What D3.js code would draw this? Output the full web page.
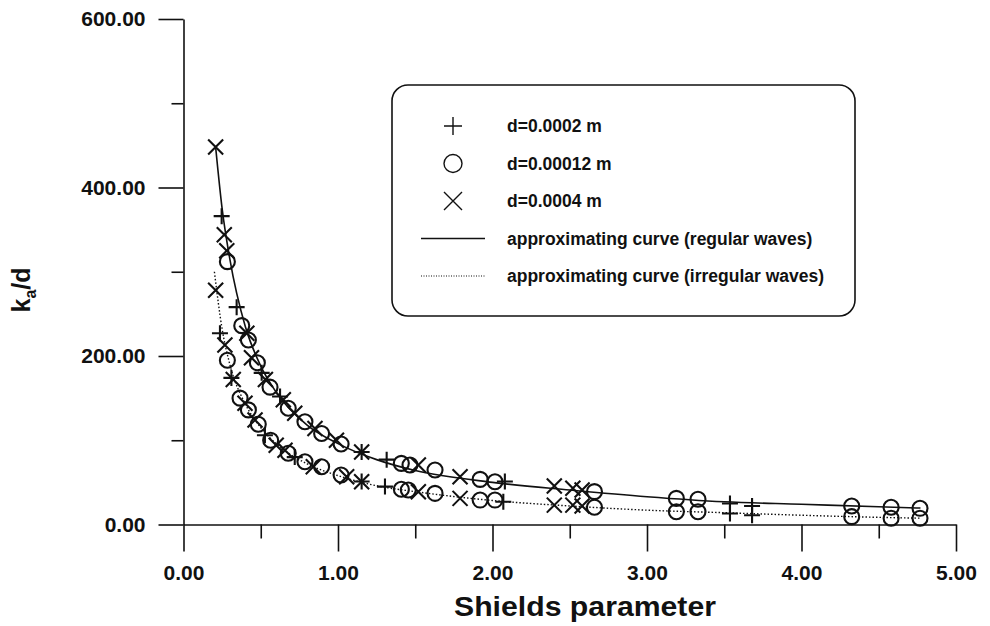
<!DOCTYPE html>
<html>

<head>
    <title>
        Shields parameter vs ka/d
    </title>
    <script src="https://cdn.jsdelivr.net/npm/d3@7/dist/d3.min.js"></script>
    <style>
        body { margin: 0; background: #fff; }
        text { font-family: "Liberation Sans", Arial, sans-serif; font-weight: bold; fill: #111; }
    </style>
</head>

<body>
    <svg></svg>
    <script>
        const width = 990;
        const height = 626;

        // d=0.0002 m  (plus)
        const plusUpper = [[0.247, 366], [0.344, 258], [0.506, 180], [0.625, 152], [1.153, 86], [1.315, 77], [2.08, 51], [3.537, 25], [3.68, 22]];
        const plusLower = [[0.236, 227], [0.31, 174], [0.527, 106], [0.72, 80], [1.153, 51], [1.304, 45], [2.07, 27], [3.537, 13], [3.68, 11]];
        // d=0.00012 m (circle)
        const circleUpper = [[0.284, 312], [0.377, 236], [0.42, 219], [0.478, 192], [0.56, 163], [0.678, 138], [0.786, 122], [0.894, 108], [1.02, 95.5], [1.41, 72.6], [1.466, 70.6], [1.628, 64.7], [1.92, 53.6], [2.016, 50.8], [2.66, 39], [3.19, 31], [3.33, 30], [4.325, 22], [4.58, 20.4], [4.767, 19.2]];
        const circleLower = [[0.284, 195], [0.366, 150], [0.42, 136], [0.484, 119], [0.564, 100], [0.678, 84.5], [0.786, 74.5], [0.894, 68.6], [1.02, 58.8], [1.41, 41.8], [1.455, 41], [1.628, 37], [1.92, 29], [2.016, 29], [2.66, 20.4], [3.19, 15.2], [3.33, 15.2], [4.325, 9.3], [4.58, 7.4], [4.767, 7.4]];
        // d=0.0004 m (cross)
        const crossUpper = [[0.208, 448], [0.264, 344], [0.28, 325], [0.41, 227], [0.44, 198], [0.53, 172], [0.646, 148], [0.72, 132], [0.851, 114], [0.99, 100], [1.153, 86], [1.52, 70.6], [1.79, 56.7], [2.40, 45.7], [2.52, 43], [2.58, 41]];
        const crossLower = [[0.208, 278], [0.268, 213], [0.322, 172], [0.398, 144], [0.463, 124], [0.6, 94], [0.657, 88], [0.84, 68.6], [1.056, 56.7], [1.153, 50.8], [1.52, 39], [1.79, 31], [2.40, 23], [2.52, 23], [2.58, 22]];

        // approximating curves
        const curveRegular = [[0.208, 448], [0.25, 375], [0.3, 315], [0.4, 235], [0.5, 188], [0.6, 157], [0.8, 118], [1.0, 96], [1.25, 77], [1.5, 64], [2.0, 50], [2.5, 41], [3.0, 33], [3.5, 27], [4.0, 24], [4.5, 21], [4.77, 19.5]];
        const curveIrregular = [[0.2, 300], [0.25, 232], [0.3, 190], [0.4, 143], [0.5, 115], [0.6, 96], [0.8, 72], [1.0, 58], [1.25, 46], [1.5, 39], [2.0, 28.5], [2.5, 22], [3.0, 17], [3.5, 14], [4.0, 11], [4.5, 8.5], [4.77, 7.5]];

        const xTicks = [0, 1, 2, 3, 4, 5];
        const xMinor = [0.5, 1.5, 2.5, 3.5, 4.5];
        const yTicks = [0, 200, 400, 600];
        const yMinor = [100, 300, 500];

        const legendItems = [
            { label: "d=0.0002 m", type: "plus" },
            { label: "d=0.00012 m", type: "circle" },
            { label: "d=0.0004 m", type: "cross" },
            { label: "approximating curve (regular waves)", type: "solid" },
            { label: "approximating curve (irregular waves)", type: "dotted" }
        ];

        let svg = d3.select("svg")
            .attr("width", width)
            .attr("height", height);

        let xScale = d3.scaleLinear().domain([0, 5]).range([183.5, 956]);
        let yScale = d3.scaleLinear().domain([0, 600]).range([524.5, 19]);

        let fmt = d3.format(".2f");

        // axes
        let xAxis = svg.append("g")
            .attr("transform", "translate(0," + yScale(0) + ")")
            .call(d3.axisBottom(xScale).tickValues(xTicks).tickSize(27).tickSizeOuter(0).tickPadding(14).tickFormat(fmt));
        svg.append("g")
            .attr("transform", "translate(0," + yScale(0) + ")")
            .call(d3.axisBottom(xScale).tickValues(xMinor).tickSize(14).tickFormat(""))
            .select(".domain").remove();

        let yAxis = svg.append("g")
            .attr("transform", "translate(" + xScale(0) + ",0)")
            .call(d3.axisLeft(yScale).tickValues(yTicks).tickSize(25).tickSizeOuter(0).tickPadding(13).tickFormat(fmt));
        svg.append("g")
            .attr("transform", "translate(" + xScale(0) + ",0)")
            .call(d3.axisLeft(yScale).tickValues(yMinor).tickSize(12).tickFormat(""))
            .select(".domain").remove();

        svg.selectAll(".domain, .tick line")
            .attr("stroke", "#111")
            .attr("stroke-width", 1.6);

        xAxis.selectAll("text")
            .attr("font-size", 21)
            .attr("font-family", "Liberation Sans")
            .attr("font-weight", "bold")
            .attr("fill", "#111");
        yAxis.selectAll("text")
            .attr("font-size", 21)
            .attr("font-family", "Liberation Sans")
            .attr("font-weight", "bold")
            .attr("fill", "#111");

        // axis titles
        svg.append("text")
            .attr("x", 585)
            .attr("y", 616)
            .attr("text-anchor", "middle")
            .attr("font-size", 28)
            .attr("textLength", 262)
            .attr("lengthAdjust", "spacingAndGlyphs")
            .text("Shields parameter");

        let yTitle = svg.append("text")
            .attr("transform", "translate(30,290) rotate(-90)")
            .attr("text-anchor", "middle")
            .attr("font-size", 25);
        yTitle.append("tspan").text("k");
        yTitle.append("tspan").attr("font-size", 16).attr("dy", 6).text("a");
        yTitle.append("tspan").attr("dy", -6).text("/d");

        // curves
        let line = d3.line()
            .x(d => xScale(d[0]))
            .y(d => yScale(d[1]))
            .curve(d3.curveMonotoneX);

        svg.append("path")
            .attr("d", line(curveRegular))
            .attr("fill", "none")
            .attr("stroke", "#111")
            .attr("stroke-width", 1.6);

        svg.append("path")
            .attr("d", line(curveIrregular))
            .attr("fill", "none")
            .attr("stroke", "#111")
            .attr("stroke-width", 1.4)
            .attr("stroke-dasharray", "1.5,2");

        // markers
        function markerPath(type, s) {
            if (type === "plus") return "M" + (-s) + ",0H" + s + "M0," + (-s) + "V" + s;
            if (type === "cross") return "M" + (-s) + "," + (-s) + "L" + s + "," + s + "M" + (-s) + "," + s + "L" + s + "," + (-s);
            return "M" + (-s) + ",0A" + s + "," + s + " 0 1,0 " + s + ",0A" + s + "," + s + " 0 1,0 " + (-s) + ",0Z";
        }

        let series = [
            { type: "plus", size: 8, pts: plusUpper.concat(plusLower) },
            { type: "circle", size: 7.5, pts: circleUpper.concat(circleLower) },
            { type: "cross", size: 7.5, pts: crossUpper.concat(crossLower) }
        ];

        series.forEach(s => {
            svg.append("g")
                .selectAll("path")
                .data(s.pts)
                .enter()
                .append("path")
                .attr("transform", d => "translate(" + xScale(d[0]) + "," + yScale(d[1]) + ")")
                .attr("d", markerPath(s.type, s.size))
                .attr("fill", "none")
                .attr("stroke", "#111")
                .attr("stroke-width", 2.1);
        });

        // legend
        let legend = svg.append("g");
        legend.append("rect")
            .attr("x", 392)
            .attr("y", 85)
            .attr("width", 463)
            .attr("height", 231)
            .attr("rx", 16)
            .attr("fill", "#fff")
            .attr("stroke", "#111")
            .attr("stroke-width", 1.6);

        let rows = legend.selectAll(".row")
            .data(legendItems)
            .enter()
            .append("g")
            .attr("transform", (d, i) => "translate(0," + (126 + i * 37.5) + ")");

        rows.filter(d => d.type === "plus" || d.type === "circle" || d.type === "cross")
            .append("path")
            .attr("transform", "translate(453,0)")
            .attr("d", d => markerPath(d.type, 9))
            .attr("fill", "none")
            .attr("stroke", "#111")
            .attr("stroke-width", 1.4);

        rows.filter(d => d.type === "solid" || d.type === "dotted")
            .append("line")
            .attr("x1", 421)
            .attr("x2", 485)
            .attr("stroke", "#111")
            .attr("stroke-width", d => d.type === "solid" ? 1.6 : 1.1)
            .attr("stroke-dasharray", d => d.type === "solid" ? null : "1,1.5");

        rows.append("text")
            .attr("x", 507)
            .attr("y", 6)
            .attr("font-size", 17.5)
            .text(d => d.label);
    </script>
</body>

</html>
